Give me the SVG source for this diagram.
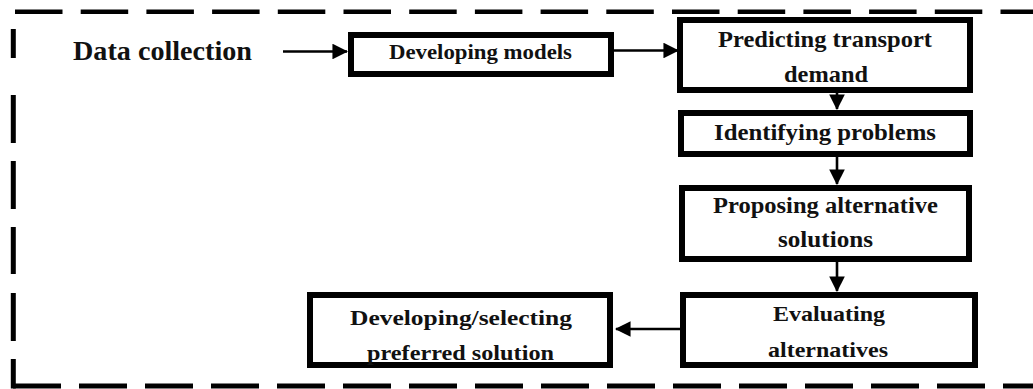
<svg xmlns="http://www.w3.org/2000/svg" width="1033" height="389" viewBox="0 0 1033 389">
  <defs>
    <marker id="head" markerWidth="6" markerHeight="6" refX="5.6" refY="3" orient="auto" markerUnits="strokeWidth">
      <path d="M0,0 L6,3 L0,6 Z" fill="#000"/>
    </marker>
    <style>
      .frame { fill: none; stroke: #000; }
      .box { fill: #fff; stroke: #000; stroke-width: 6; }
      .link { fill: none; stroke: #000; stroke-width: 2.6; marker-end: url(#head); }
      .lbl { font-family: 'Liberation Serif', 'DejaVu Serif', serif; font-weight: bold; fill: #111; text-anchor: middle; }
    </style>
  </defs>
  <rect width="1033" height="389" fill="#fff"/>

  <!-- dashed outer frame -->
  <g id="frame">
    <line class="frame" x1="15" y1="11.8" x2="1033" y2="11.8" stroke-width="4.5" stroke-dasharray="47.5 18.2"/>
    <line class="frame" x1="13" y1="386" x2="1033" y2="386" stroke-width="5" stroke-dasharray="48 18"/>
    <path class="frame" stroke-width="5" d="M13.3,29 V58 M13.3,95 V143 M13.3,161 V209 M13.3,227 V274 M13.3,293 V341 M13.3,359 V388.5"/>
  </g>

  <!-- connectors -->
  <g id="connectors">
    <line class="link" x1="283" y1="51.5" x2="347" y2="51.5"/>
    <line class="link" x1="614" y1="50.5" x2="678" y2="50.5"/>
    <line class="link" x1="837" y1="93" x2="837" y2="109"/>
    <line class="link" x1="837" y1="157" x2="837" y2="184"/>
    <line class="link" x1="837" y1="262" x2="837" y2="291"/>
    <line class="link" x1="680" y1="329" x2="616" y2="329"/>
  </g>

  <g font-family="Liberation Serif, DejaVu Serif, serif">
    <g id="data-collection">
      <text class="lbl" x="162.5" y="60" font-size="28" textLength="179" lengthAdjust="spacingAndGlyphs">Data collection</text>
    </g>

    <g id="developing-models">
      <rect class="box" x="351" y="35" width="260" height="39"/>
      <text class="lbl" x="480.5" y="59" font-size="21" textLength="183" lengthAdjust="spacingAndGlyphs">Developing models</text>
    </g>

    <g id="predicting-demand">
      <rect class="box" x="680" y="20" width="290" height="70"/>
      <text class="lbl" x="825" y="47" font-size="23" textLength="214" lengthAdjust="spacingAndGlyphs">Predicting transport</text>
      <text class="lbl" x="826" y="82" font-size="23" textLength="84" lengthAdjust="spacingAndGlyphs">demand</text>
    </g>

    <g id="identifying-problems">
      <rect class="box" x="681" y="113" width="289" height="41"/>
      <text class="lbl" x="825" y="140" font-size="23" textLength="222" lengthAdjust="spacingAndGlyphs">Identifying problems</text>
    </g>

    <g id="proposing-solutions">
      <rect class="box" x="682" y="188" width="287" height="71"/>
      <text class="lbl" x="825.5" y="213" font-size="23" textLength="225" lengthAdjust="spacingAndGlyphs">Proposing alternative</text>
      <text class="lbl" x="825.5" y="247" font-size="23" textLength="95" lengthAdjust="spacingAndGlyphs">solutions</text>
    </g>

    <g id="evaluating-alternatives">
      <rect class="box" x="683" y="295" width="292" height="70"/>
      <text class="lbl" x="829" y="321" font-size="22" textLength="112" lengthAdjust="spacingAndGlyphs">Evaluating</text>
      <text class="lbl" x="828" y="357" font-size="22" textLength="120" lengthAdjust="spacingAndGlyphs">alternatives</text>
    </g>

    <g id="preferred-solution">
      <rect class="box" x="310" y="295" width="300" height="70"/>
      <text class="lbl" x="461" y="325" font-size="22" textLength="222" lengthAdjust="spacingAndGlyphs">Developing/selecting</text>
      <text class="lbl" x="460.5" y="360" font-size="22" textLength="187" lengthAdjust="spacingAndGlyphs">preferred solution</text>
    </g>
  </g>
</svg>
